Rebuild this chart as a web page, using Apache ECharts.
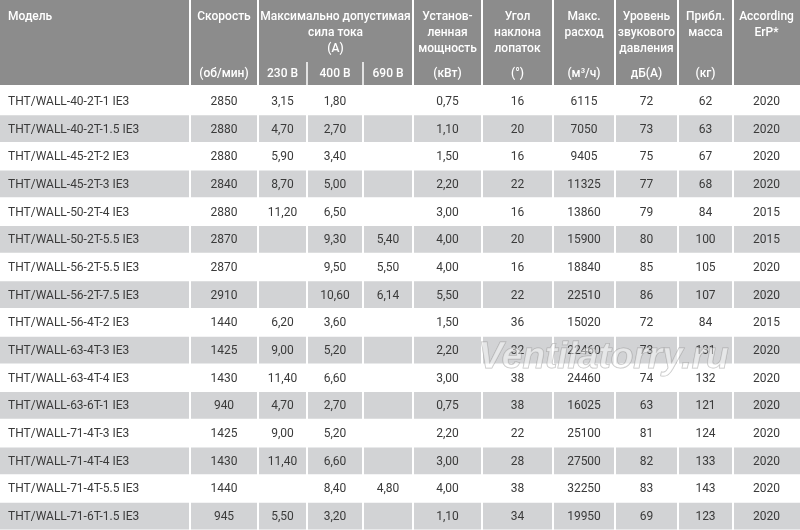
<!DOCTYPE html>
<html>
<head>
<meta charset="utf-8">
<script src="https://cdn.jsdelivr.net/npm/echarts@6/dist/echarts.min.js"></script>
<style>
  html, body { margin: 0; padding: 0; background: #fff; }
  #main { width: 800px; height: 530px; }
</style>
</head>
<body>
<div id="main"></div>
<script>
// данные таблицы (по столбцам)
var models = ['THT/WALL-40-2T-1 IE3', 'THT/WALL-40-2T-1.5 IE3', 'THT/WALL-45-2T-2 IE3', 'THT/WALL-45-2T-3 IE3',
  'THT/WALL-50-2T-4 IE3', 'THT/WALL-50-2T-5.5 IE3', 'THT/WALL-56-2T-5.5 IE3', 'THT/WALL-56-2T-7.5 IE3',
  'THT/WALL-56-4T-2 IE3', 'THT/WALL-63-4T-3 IE3', 'THT/WALL-63-4T-4 IE3', 'THT/WALL-63-6T-1 IE3',
  'THT/WALL-71-4T-3 IE3', 'THT/WALL-71-4T-4 IE3', 'THT/WALL-71-4T-5.5 IE3', 'THT/WALL-71-6T-1.5 IE3'];
var speed = [2850, 2880, 2880, 2840, 2880, 2870, 2870, 2910, 1440, 1425, 1430, 940, 1425, 1430, 1440, 945];
var amp230 = [3.15, 4.70, 5.90, 8.70, 11.20, null, null, null, 6.20, 9.00, 11.40, 4.70, 9.00, 11.40, null, 5.50];
var amp400 = [1.80, 2.70, 3.40, 5.00, 6.50, 9.30, 9.50, 10.60, 3.60, 5.20, 6.60, 2.70, 5.20, 6.60, 8.40, 3.20];
var amp690 = [null, null, null, null, null, 5.40, 5.50, 6.14, null, null, null, null, null, null, 4.80, null];
var power = [0.75, 1.10, 1.50, 2.20, 3.00, 4.00, 4.00, 5.50, 1.50, 2.20, 3.00, 0.75, 2.20, 3.00, 4.00, 1.10];
var bladeAngle = [16, 20, 16, 22, 16, 20, 16, 22, 36, 32, 38, 38, 22, 28, 38, 34];
var airflow = [6115, 7050, 9405, 11325, 13860, 15900, 18840, 22510, 15020, 22460, 24460, 16025, 25100, 27500, 32250, 19950];
var noise = [72, 73, 75, 77, 79, 80, 85, 86, 72, 73, 74, 63, 81, 82, 83, 69];
var mass = [62, 63, 67, 68, 84, 100, 105, 107, 84, 131, 132, 121, 124, 133, 143, 123];
var erp = [2020, 2020, 2020, 2020, 2015, 2015, 2020, 2020, 2015, 2020, 2020, 2020, 2020, 2020, 2020, 2020];

var headerTitles = ['Модель', 'Скорость', 'Максимально допустимая\nсила тока\n(А)', '', '',
  'Установ-\nленная\nмощность', 'Угол\nнаклона\nлопаток', 'Макс.\nрасход',
  'Уровень\nзвукового\nдавления', 'Прибл.\nмасса', 'According\nErP*'];
var headerUnits = ['', '(об/мин)', '230 В', '400 В', '690 В', '(кВт)', '(°)', '(м³/ч)', 'дБ(А)', '(кг)', ''];

var columns = [models, speed, amp230, amp400, amp690, power, bladeAngle, airflow, noise, mass, erp];
var decimalCols = [2, 3, 4, 5];

// раскладка
var EDGES = [0, 190, 258, 307, 363, 413, 482, 553, 615, 678, 733, 800];
var HEAD_H = 85, UNIT_TOP = 62;
var HEAD_GRAY = '#8c8c8c', ROW_GRAY = '#d2d3d5', TEXT = '#3a3a3a';
var FONT_BODY = '12px Roboto, "Noto Sans", sans-serif';
var FONT_HEAD = '500 12px Roboto, "Noto Sans", sans-serif';

function cellText(c, r) {
    var v = columns[c][r];
    if (v === null || v === undefined) return '';
    if (decimalCols.indexOf(c) >= 0) return v.toFixed(2).replace('.', ',');
    return String(v);
}

function renderHead(params, api) {
    var c = api.value(0);
    var X = function (v) { return api.coord([v, 0])[0]; };
    var Y = function (v) { return api.coord([0, v])[1]; };
    var last = EDGES.length - 2;
    var children = [];
    var inGroup = c >= 2 && c <= 4;
    if (!inGroup) {
        var x0 = X(EDGES[c]) + (c > 0 ? 1 : 0);
        var x1 = X(EDGES[c + 1]) - (c < last ? 1 : 0);
        children.push({ type: 'rect', shape: { x: x0, y: Y(0), width: x1 - x0, height: Y(HEAD_H) - Y(0) }, style: { fill: HEAD_GRAY } });
    } else if (c === 2) {
        var g0 = X(EDGES[2]) + 1, g1 = X(EDGES[5]) - 1;
        children.push({ type: 'rect', shape: { x: g0, y: Y(0), width: g1 - g0, height: Y(HEAD_H) - Y(0) }, style: { fill: HEAD_GRAY } });
    } else {
        var lx = X(EDGES[c]);
        children.push({ type: 'rect', shape: { x: lx - 0.75, y: Y(UNIT_TOP), width: 1.5, height: Y(HEAD_H) - Y(UNIT_TOP) }, style: { fill: '#fff' } });
    }
    var mid = (X(EDGES[c]) + X(EDGES[c + 1])) / 2;
    if (headerTitles[c]) {
        var tx = c === 0 ? X(EDGES[0]) + 8 : (c === 2 ? (X(EDGES[2]) + X(EDGES[5])) / 2 : mid);
        children.push({ type: 'text', style: {
            text: headerTitles[c], x: tx, y: Y(9), align: c === 0 ? 'left' : 'center', verticalAlign: 'top',
            lineHeight: 16, fill: '#fff', font: FONT_HEAD } });
    }
    if (headerUnits[c]) {
        children.push({ type: 'text', style: {
            text: headerUnits[c], x: mid, y: Y(74), align: 'center', verticalAlign: 'middle',
            fill: '#fff', font: FONT_HEAD } });
    }
    return { type: 'group', children: children };
}

function renderBody(params, api) {
    var c = api.value(0), r = api.value(1);
    var p = api.coord([EDGES[c], r]);
    var pe = api.coord([EDGES[c + 1], r]);
    var h = api.size([0, 1])[1];
    var last = EDGES.length - 2;
    var children = [];
    if (r % 2 === 1) {
        var x0 = p[0] + (c > 0 ? 1 : 0);
        var x1 = pe[0] - (c < last ? 1 : 0);
        children.push({ type: 'rect', shape: { x: x0, y: p[1] - h / 2 + 0.5, width: x1 - x0, height: h - 1 }, style: { fill: ROW_GRAY } });
    }
    children.push({ type: 'text', style: {
        text: cellText(c, r), x: c === 0 ? p[0] + 8 : (p[0] + pe[0]) / 2, y: p[1] + 1,
        align: c === 0 ? 'left' : 'center', verticalAlign: 'middle', fill: TEXT, font: FONT_BODY } });
    return { type: 'group', children: children };
}

var headData = [];
for (var i = 0; i < headerTitles.length; i++) headData.push([i]);
var bodyData = [];
for (var r = 0; r < models.length; r++) {
    for (var c = 0; c < columns.length; c++) bodyData.push([c, r]);
}

var myChart = echarts.init(document.getElementById('main'));
var option = {
    animation: false,
    grid: [
        { left: 0, right: 0, top: 87, bottom: 0 },
        { left: 0, right: 0, top: 0, height: HEAD_H }
    ],
    xAxis: [
        { type: 'value', min: 0, max: 800, show: false, gridIndex: 0 },
        { type: 'value', min: 0, max: 800, show: false, gridIndex: 1 }
    ],
    yAxis: [
        { type: 'category', data: models, inverse: true, show: false, gridIndex: 0 },
        { type: 'value', min: 0, max: HEAD_H, inverse: true, show: false, gridIndex: 1 }
    ],
    series: [
        { type: 'custom', name: 'body', xAxisIndex: 0, yAxisIndex: 0, data: bodyData, renderItem: renderBody, clip: false },
        { type: 'custom', name: 'head', xAxisIndex: 1, yAxisIndex: 1, data: headData, renderItem: renderHead, clip: false }
    ],
    graphic: [{
        type: 'text', left: 478, top: 339, z: 100, silent: true,
        style: {
            text: 'Ventilatorry.ru', font: 'italic bold 37px "Liberation Sans", sans-serif',
            fill: 'rgba(255,255,255,0.45)', stroke: 'rgba(140,140,140,0.55)', lineWidth: 1
        }
    }]
};
myChart.setOption(option);
</script>
</body>
</html>
